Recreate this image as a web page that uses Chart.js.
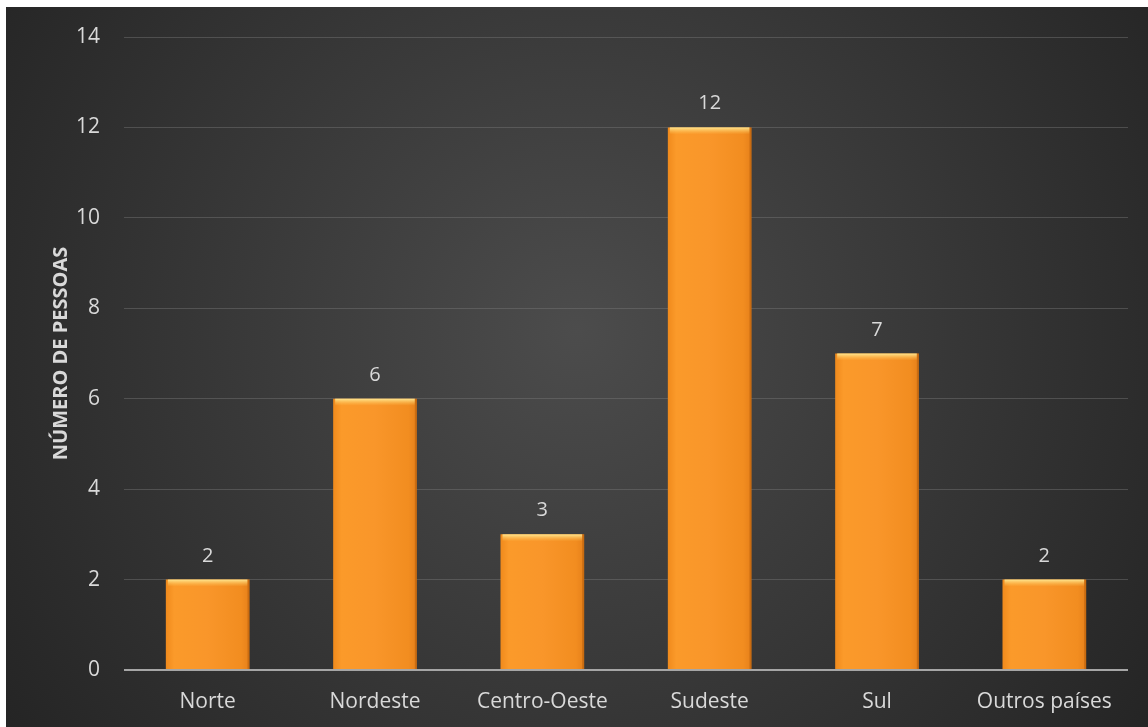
<!DOCTYPE html>
<html>
<head>
<meta charset="utf-8">
<script src="https://cdn.jsdelivr.net/npm/chart.js@4"></script>
<style>
  html, body { margin: 0; padding: 0; background: #fff; }
  #wrap { position: absolute; left: 6px; top: 7px; width: 1142px; height: 720px; }
</style>
</head>
<body>
<div id="wrap"><canvas id="grafico"></canvas></div>
<script>
// Dados do gráfico
const regioes = ['Norte', 'Nordeste', 'Centro-Oeste', 'Sudeste', 'Sul', 'Outros países'];
const pessoas = [2, 6, 3, 12, 7, 2];
const tituloEixoY = 'NÚMERO DE PESSOAS';

const corTexto = '#d9d9d9';
const fonte = "'Open Sans', 'Noto Sans', sans-serif";

// Fundo escuro com gradiente radial
const fundoPlugin = {
    id: 'fundo',
    beforeDraw(chart) {
        const { ctx, width, height } = chart;
        const g = ctx.createRadialGradient(width * 0.5, height * 0.45, 0, width * 0.5, height * 0.45, width * 0.62);
        g.addColorStop(0, '#4c4c4c');
        g.addColorStop(1, '#242424');
        ctx.save();
        ctx.fillStyle = g;
        ctx.fillRect(0, 0, width, height);
        ctx.restore();
    }
};

// Realce no topo das barras e rótulos de valor
const barrasPlugin = {
    id: 'barras',
    afterDatasetsDraw(chart) {
        const { ctx } = chart;
        const meta = chart.getDatasetMeta(0);
        ctx.save();
        meta.data.forEach((bar, i) => {
            const l = bar.x - bar.width / 2;
            const g = ctx.createLinearGradient(0, bar.y, 0, bar.y + 7);
            g.addColorStop(0, 'rgba(255,235,150,0.95)');
            g.addColorStop(1, 'rgba(255,200,90,0)');
            ctx.fillStyle = g;
            ctx.fillRect(l + 2, bar.y, bar.width - 4, 7);
            // sombra lateral direita
            ctx.fillStyle = 'rgba(150,70,0,0.35)';
            ctx.fillRect(l + bar.width - 2, bar.y, 2, bar.base - bar.y);
            ctx.fillStyle = corTexto;
            ctx.font = `20px ${fonte}`;
            ctx.textAlign = 'center';
            ctx.textBaseline = 'alphabetic';
            ctx.fillText(pessoas[i], bar.x, bar.y - 18);
        });
        ctx.restore();
    }
};

new Chart(document.getElementById('grafico'), {
    type: 'bar',
    data: {
        labels: regioes,
        datasets: [{
            data: pessoas,
            backgroundColor(c) {
                const area = c.chart.chartArea;
                const xs = c.chart.scales.x;
                if (!area || !xs) return '#f7931e';
                const cx = xs.getPixelForValue(c.dataIndex);
                const w = (area.right - area.left) / regioes.length * 0.5;
                if (!Number.isFinite(cx) || !Number.isFinite(w) || w <= 0) return '#f7931e';
                const l = cx - w / 2;
                const g = c.chart.ctx.createLinearGradient(l, 0, l + w, 0);
                g.addColorStop(0, '#f08a1c');
                g.addColorStop(0.1, '#fb9a2a');
                g.addColorStop(0.5, '#f9962a');
                g.addColorStop(0.9, '#f28d20');
                g.addColorStop(1, '#e6801a');
                return g;
            },
            borderWidth: 0,
            barPercentage: 0.5,
            categoryPercentage: 1.0
        }]
    },
    options: {
        responsive: true,
        maintainAspectRatio: false,
        animation: false,
        layout: { padding: { top: 30, right: 20, left: 0, bottom: 0 } },
        plugins: {
            legend: { display: false },
            tooltip: { enabled: false }
        },
        scales: {
            x: {
                grid: { display: false },
                border: { display: false },
                ticks: { color: corTexto, font: { family: fonte, size: 21 }, padding: 11, maxRotation: 0 },
                afterFit(scale) { scale.height = 57; scale.paddingLeft = 0; scale.paddingRight = 0; }
            },
            y: {
                min: 0,
                max: 14,
                ticks: { stepSize: 2, color: corTexto, font: { family: fonte, size: 21 }, padding: 24 },
                grid: {
                    drawTicks: false,
                    color: c => c.tick && c.tick.value === 0 ? '#a6a6a6' : 'rgba(120,120,120,0.45)',
                    lineWidth: c => c.tick && c.tick.value === 0 ? 2 : 1
                },
                border: { display: false },
                title: {
                    display: true,
                    text: tituloEixoY,
                    color: corTexto,
                    font: { family: fonte, size: 20, weight: 'bold' },
                    padding: { top: 43, bottom: 10 }
                },
                afterFit(scale) { scale.width = 118; scale.paddingTop = 0; scale.paddingBottom = 0; }
            }
        }
    },
    plugins: [fundoPlugin, barrasPlugin]
});
</script>
</body>
</html>
